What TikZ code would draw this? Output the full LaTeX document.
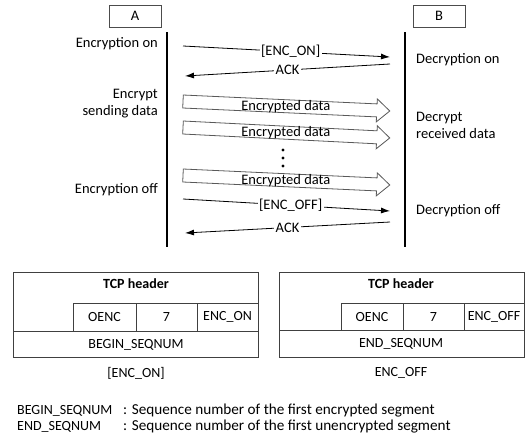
\documentclass[tikz,border=0pt]{standalone}
\usepackage{fontspec}
\setmainfont{Carlito}
\usetikzlibrary{arrows.meta}
\begin{document}
\begin{tikzpicture}[x=1pt,y=-1pt,
  font=\fontsize{14.5}{17}\selectfont,
  party/.style={draw=black!70, line width=0.8pt, minimum width=52pt, minimum height=22pt, inner sep=0pt},
  life/.style={line width=2.4pt, line cap=butt},
  msg/.style={-{Latex[length=9pt,width=6pt]}, line width=0.8pt},
  tag/.style={fill=white, inner sep=1.5pt},
  note/.style={inner sep=0pt},
  cell/.style={draw=black!75, line width=0.8pt},
  ctext/.style={inner sep=0pt, font=\fontsize{14}{16}\selectfont},
  legend/.style={inner sep=0pt, font=\fontsize{15.2}{17}\selectfont},
  dataarrow/.pic={
    \draw[draw=black!65, fill=white, line width=0.8pt]
      (0,-6.5) -- (194,-6.5) -- (194,-11.5) -- (207,0) -- (194,11.5) -- (194,6.5) -- (0,6.5) -- cycle;
    \node[inner sep=0pt] (-txt) at (103,0) {Encrypted data};
  }]
\useasboundingbox[fill=white] (0,0) rectangle (526,434);

% parties and lifelines
\node[party] (A) at (135,16) {A};
\node[party] (B) at (439,16) {B};
\coordinate (la1) at (167,32);  \coordinate (la2) at (167,247);
\coordinate (lb1) at (405,32);  \coordinate (lb2) at (405,247);
\draw[life] (la1) -- (la2);
\draw[life] (lb1) -- (lb2);

% side notes
\node[note, anchor=east] (encon) at (158,44) {Encryption on};
\node[note, anchor=east, align=right] (encsend) at (158,103.5) {Encrypt\\sending data};
\node[note, anchor=east] (encoff) at (158,190) {Encryption off};
\node[note, anchor=west] (decon) at (416,60) {Decryption on};
\node[note, anchor=west, align=left] (decrecv) at (416,125.5) {Decrypt\\received data};
\node[note, anchor=west] (decoff) at (416,211) {Decryption off};

% control messages
\coordinate (m1s) at (183,46);  \coordinate (m1e) at (390,57);
\coordinate (m2s) at (390,64);  \coordinate (m2e) at (185,76);
\coordinate (m3s) at (183,199); \coordinate (m3e) at (390,211);
\coordinate (m4s) at (390,222); \coordinate (m4e) at (185,233);
\draw[msg] (m1s) -- node[tag, pos=0.52] (t1) {[ENC\_ON]} (m1e);
\draw[msg] (m2s) -- node[tag, pos=0.5] (t2) {ACK} (m2e);
\draw[msg] (m3s) -- node[tag, pos=0.52] (t3) {[ENC\_OFF]} (m3e);
\draw[msg] (m4s) -- node[tag, pos=0.5] (t4) {ACK} (m4e);

% encrypted data segments
\pic[rotate=-2.63] (d1) at (183,101.5) {dataarrow};
\pic[rotate=-2.9]  (d2) at (183,127.5) {dataarrow};
\pic[rotate=-2.63] (d3) at (183,175.5) {dataarrow};
\foreach \yy in {150,158,166} \fill (283,\yy) circle (1.7pt);

% option layout: ENC_ON
\draw[cell] (13,272) rectangle (258,357);
\draw[cell] (73,303) -- (258,303);
\draw[cell] (13,331) -- (258,331);
\draw[cell] (73,303) -- (73,331) (136,303) -- (136,331) (197,303) -- (197,331);
\node[ctext, font=\fontsize{14}{16}\selectfont\bfseries] (h1) at (136,284) {TCP header};
\node[ctext] (o1) at (104.5,317) {OENC};
\node[ctext] (n1) at (166.5,317) {7};
\node[ctext] (k1) at (227.5,317) {ENC\_ON};
\node[ctext] (s1) at (136,344.5) {BEGIN\_SEQNUM};
\node[ctext] (c1) at (136,373) {[ENC\_ON]};

% option layout: ENC_OFF
\draw[cell] (279,272) rectangle (524,357);
\draw[cell] (341,303) -- (524,303);
\draw[cell] (279,330) -- (524,330);
\draw[cell] (341,303) -- (341,330) (403,303) -- (403,330) (464,303) -- (464,330);
\node[ctext, font=\fontsize{14}{16}\selectfont\bfseries] (h2) at (401,284) {TCP header};
\node[ctext] (o2) at (372,317) {OENC};
\node[ctext] (n2) at (433.5,317) {7};
\node[ctext] (k2) at (494,317) {ENC\_OFF};
\node[ctext] (s2) at (401,344) {END\_SEQNUM};
\node[ctext] (c2) at (401,373) {ENC\_OFF};

% legend
\node[ctext, anchor=west] (g1) at (17,411) {BEGIN\_SEQNUM};
\node[legend, anchor=west] (g1d) at (123,411) {: Sequence number of the first encrypted segment};
\node[ctext, anchor=west] (g2) at (17,427) {END\_SEQNUM};
\node[legend, anchor=west] (g2d) at (123,427) {: Sequence number of the first unencrypted segment};
\end{tikzpicture}
\end{document}
